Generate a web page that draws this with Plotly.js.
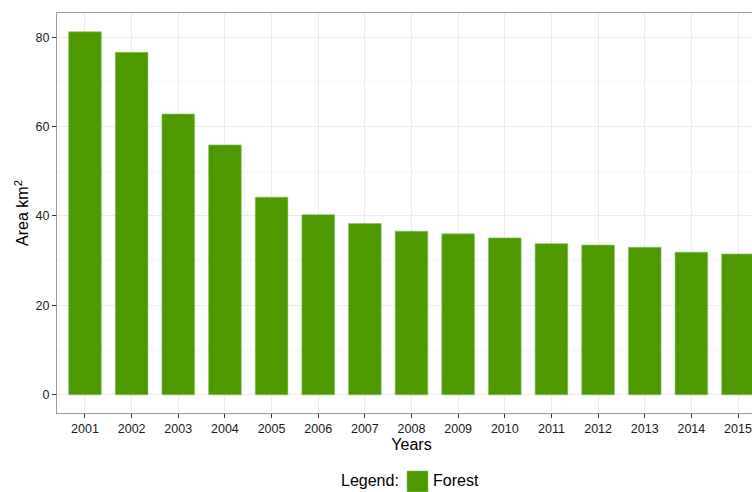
<!DOCTYPE html>
<html>
<head>
<meta charset="utf-8">
<script src="https://cdn.plot.ly/plotly-3.0.1.min.js"></script>
<style>
html, body { margin: 0; padding: 0; overflow: hidden; background: #fff; }
#chart { width: 766px; height: 492px; }
</style>
</head>
<body>
<div id="chart"></div>
<script>
const years = ["2001","2002","2003","2004","2005","2006","2007","2008","2009","2010","2011","2012","2013","2014","2015"];
const forestArea = [81.2, 76.6, 62.8, 55.9, 44.2, 40.3, 38.3, 36.6, 36.0, 35.1, 33.8, 33.5, 33.0, 31.9, 31.5];
const yTicks = [0, 20, 40, 60, 80];
const seriesName = "Forest";
const legendTitle = "Legend:";
const barColor = "#4c9900";

const font = "Liberation Sans, Arial, Helvetica, sans-serif";

const traces = [
  {
    type: "bar",
    x: years,
    y: forestArea,
    name: seriesName,
    width: 0.7,
    marker: { color: barColor, line: { color: "#8cc06a", width: 0.6 } },
    showlegend: false,
    hoverinfo: "x+y"
  }
];

// legend key drawn in paper coordinates (plot area spans x 57..766 px, y 13..413 px)
const px2x = p => (p - 57) / 709;
const px2y = p => (413 - p) / 400;

const layout = {
  width: 766,
  height: 492,
  margin: { l: 57, r: 0, t: 13, b: 79, autoexpand: false },
  paper_bgcolor: "#ffffff",
  plot_bgcolor: "#ffffff",
  font: { family: font, color: "#1a1a1a", size: 12 },
  bargap: 0.3,
  showlegend: false,
  xaxis: {
    type: "category",
    range: [-0.6, 14.6],
    showgrid: true,
    gridcolor: "#ebebeb",
    gridwidth: 1,
    zeroline: false,
    showline: true,
    mirror: true,
    linecolor: "#9a9a9a",
    linewidth: 1,
    ticks: "outside",
    ticklen: 4,
    tickwidth: 1,
    tickcolor: "#333333",
    tickfont: { family: font, size: 12.5, color: "#1a1a1a" },
    title: { text: "Years", font: { family: font, size: 16, color: "#000000" }, standoff: 2 }
  },
  yaxis: {
    range: [-4.07, 85.4],
    tickvals: yTicks,
    ticktext: yTicks.map(String),
    showgrid: true,
    gridcolor: "#ebebeb",
    gridwidth: 1,
    minor: { tickvals: [10, 30, 50, 70], showgrid: true, gridcolor: "#f5f5f5", gridwidth: 1, ticks: "" },
    zeroline: false,
    showline: true,
    mirror: true,
    linecolor: "#9a9a9a",
    linewidth: 1,
    ticks: "outside",
    ticklen: 4,
    tickwidth: 1,
    tickcolor: "#333333",
    tickfont: { family: font, size: 12.5, color: "#1a1a1a" },
    title: { text: "Area km<sup>2</sup>", font: { family: font, size: 16, color: "#000000" }, standoff: 2 }
  },
  shapes: [
    {
      type: "rect", xref: "paper", yref: "paper",
      x0: px2x(407), x1: px2x(428), y0: px2y(471), y1: px2y(492),
      fillcolor: barColor, line: { color: "#8cc06a", width: 0.6 }, layer: "above"
    }
  ],
  annotations: [
    {
      xref: "paper", yref: "paper", x: px2x(401), y: px2y(480),
      xanchor: "right", yanchor: "middle", showarrow: false,
      text: legendTitle, font: { family: font, size: 16, color: "#000000" }
    },
    {
      xref: "paper", yref: "paper", x: px2x(431), y: px2y(480),
      xanchor: "left", yanchor: "middle", showarrow: false,
      text: seriesName, font: { family: font, size: 16, color: "#000000" }
    }
  ]
};

Plotly.newPlot("chart", traces, layout, { displayModeBar: false, staticPlot: true });
</script>
</body>
</html>
